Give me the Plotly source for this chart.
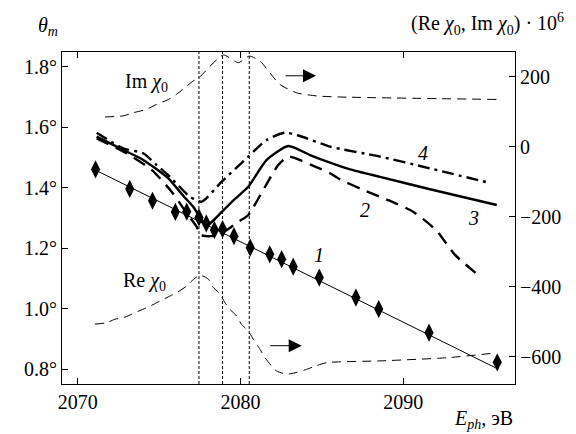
import plotly.graph_objects as go

# ---- data ----
e_pts = [2071.1, 2073.2, 2074.6, 2076.0, 2076.7, 2077.45, 2077.9, 2078.4, 2078.9, 2079.6,
         2080.6, 2081.8, 2082.53, 2083.24, 2084.84, 2087.09, 2088.49, 2091.58, 2095.77]
theta_pts = [1.461, 1.396, 1.357, 1.320, 1.321, 1.302, 1.282, 1.260, 1.263, 1.240,
             1.202, 1.180, 1.164, 1.139, 1.103, 1.037, 0.999, 0.921, 0.823]

fit_e = [2071.07, 2095.74]
fit_theta = [1.459, 0.803]

c2_e = [2071.17, 2073.01, 2074.55, 2075.77, 2076.70, 2077.31, 2077.51, 2078.31, 2079.15, 2079.77,
        2080.48, 2081.40, 2082.32, 2082.94, 2083.76, 2084.58, 2085.50, 2086.11, 2087.44, 2089.12,
        2090.60, 2092.01, 2093.18, 2094.72]
c2_theta = [1.563, 1.514, 1.459, 1.387, 1.316, 1.271, 1.244, 1.241, 1.260, 1.284,
            1.310, 1.393, 1.475, 1.503, 1.489, 1.470, 1.448, 1.428, 1.395, 1.358,
            1.321, 1.260, 1.178, 1.106]

c3_e = [2071.17, 2072.80, 2074.03, 2075.57, 2076.49, 2077.10, 2077.62, 2077.90, 2078.30, 2078.85,
        2079.60, 2080.48, 2081.61, 2082.94, 2084.27, 2085.50, 2086.73, 2088.57, 2091.64, 2095.74]
c3_theta = [1.569, 1.525, 1.492, 1.431, 1.373, 1.337, 1.293, 1.274, 1.290, 1.320,
            1.360, 1.403, 1.492, 1.538, 1.508, 1.483, 1.461, 1.436, 1.395, 1.343]

c4_e = [2071.17, 2072.80, 2074.03, 2074.85, 2075.67, 2076.90, 2077.62, 2078.85, 2080.48, 2081.61,
        2082.73, 2083.65, 2085.50, 2088.57, 2091.64, 2095.22]
c4_theta = [1.582, 1.530, 1.514, 1.475, 1.436, 1.370, 1.354, 1.420, 1.503, 1.558,
            1.582, 1.571, 1.536, 1.503, 1.464, 1.417]

im_e = [2071.68, 2072.78, 2073.42, 2074.24, 2074.85, 2075.57, 2076.08, 2076.59, 2077.10, 2077.45,
        2078.94, 2079.87, 2080.54, 2081.20, 2081.81, 2082.42, 2083.45, 2084.70, 2086.14, 2095.74]
im_val = [85, 88, 97, 107, 121, 135, 150, 169, 188, 197,
          262, 240, 259, 245, 211, 178, 154, 145, 142, 135]

re_e = [2071.06, 2071.78, 2072.29, 2072.91, 2073.52, 2074.24, 2074.85, 2075.57, 2076.08, 2076.70,
        2077.00, 2077.50, 2078.02, 2078.33, 2078.74, 2079.05, 2079.36, 2079.77, 2080.07, 2080.48,
        2080.79, 2081.20, 2081.51, 2081.92, 2082.22, 2082.84, 2083.35, 2084.07, 2084.58, 2085.30,
        2088.57, 2092.67, 2095.74]
re_val = [-507, -503, -493, -487, -474, -460, -446, -429, -417, -398,
          -384, -367, -378, -402, -421, -446, -465, -484, -508, -527,
          -550, -579, -603, -627, -641, -650, -646, -636, -627, -617,
          -612, -603, -589]

vlines_e = [2077.45, 2078.9, 2080.54]

x_ticks = [2070, 2080, 2090]
y1_ticks = [0.8, 1.0, 1.2, 1.4, 1.6, 1.8]
y1_labels = ["0.8°", "1.0°", "1.2°", "1.4°", "1.6°", "1.8°"]
y2_ticks = [-600, -400, -200, 0, 200]
y2_labels = ["−600", "−400", "−200", "0", "200"]

FONT = "Liberation Serif, 'Times New Roman', serif"
XR = [2069.04, 2096.86]
Y1R = [0.7514, 1.8486]
Y2R = [-678, 270.6]

fig = go.Figure()

for ve in vlines_e:
    fig.add_trace(go.Scatter(x=[ve, ve], y=Y1R, mode="lines",
                             line=dict(color="black", width=1, dash="3px,2px"),
                             showlegend=False, hoverinfo="skip"))

fig.add_trace(go.Scatter(x=im_e, y=im_val, yaxis="y2", mode="lines",
                         line=dict(color="black", width=1, dash="9px,6px", shape="spline", smoothing=0.6),
                         showlegend=False))
fig.add_trace(go.Scatter(x=re_e, y=re_val, yaxis="y2", mode="lines",
                         line=dict(color="black", width=1, dash="9px,6px", shape="spline", smoothing=0.6),
                         showlegend=False))

fig.add_trace(go.Scatter(x=c2_e, y=c2_theta, mode="lines",
                         line=dict(color="black", width=2.4, dash="13px,8px", shape="spline", smoothing=0.6),
                         showlegend=False))
fig.add_trace(go.Scatter(x=c3_e, y=c3_theta, mode="lines",
                         line=dict(color="black", width=2.4, shape="spline", smoothing=0.6),
                         showlegend=False))
fig.add_trace(go.Scatter(x=c4_e, y=c4_theta, mode="lines",
                         line=dict(color="black", width=2.4, dash="12px,5px,3px,5px", shape="spline", smoothing=0.6),
                         showlegend=False))

fig.add_trace(go.Scatter(x=fit_e, y=fit_theta, mode="lines",
                         line=dict(color="black", width=1), showlegend=False))
fig.add_trace(go.Scatter(x=e_pts, y=theta_pts, mode="markers",
                         marker=dict(symbol="diamond-tall", size=13, color="black"),
                         showlegend=False))

tf = dict(family=FONT, size=20, color="black")
for txt, xe, yt in [("1", 2084.84, 1.178), ("2", 2087.65, 1.326), ("3", 2094.3, 1.299), ("4", 2091.23, 1.514)]:
    fig.add_annotation(x=xe, y=yt, xref="x", yref="y", text="<i>" + txt + "</i>", showarrow=False, font=tf)
fig.add_annotation(x=2074.25, y=1.749, xref="x", yref="y", text="Im <i>χ</i><sub>0</sub>", showarrow=False, font=tf)
fig.add_annotation(x=2074.1, y=1.089, xref="x", yref="y", text="Re <i>χ</i><sub>0</sub>", showarrow=False, font=tf)
fig.add_annotation(x=2084.64, y=1.770, xref="x", yref="y", ax=-32, ay=0, text="", showarrow=True,
                   arrowhead=2, arrowsize=2.6, arrowwidth=1, arrowcolor="black")
fig.add_annotation(x=2083.76, y=0.878, xref="x", yref="y", ax=-33, ay=0, text="", showarrow=True,
                   arrowhead=2, arrowsize=2.6, arrowwidth=1, arrowcolor="black")

fig.add_annotation(x=0.0, y=1.0, xref="paper", yref="paper", xshift=-26, yshift=11,
                   xanchor="left", yanchor="bottom",
                   text="<i>θ</i><sub><i>m</i></sub>", showarrow=False, font=tf)
fig.add_annotation(x=1.0, y=1.0, xref="paper", yref="paper", xshift=51, yshift=12,
                   xanchor="right", yanchor="bottom",
                   text="(Re <i>χ</i><sub>0</sub>, Im <i>χ</i><sub>0</sub>) · 10<sup>6</sup>",
                   showarrow=False, font=tf)
fig.add_annotation(x=1.0, y=0.0, xref="paper", yref="paper", xshift=0, yshift=-50,
                   xanchor="right", yanchor="bottom",
                   text="<i>E</i><sub><i>ph</i></sub>, эВ", showarrow=False, font=tf)

axis_common = dict(ticks="inside", ticklen=6, tickwidth=1, tickcolor="black",
                   showline=True, linecolor="black", linewidth=1.2, showgrid=False,
                   zeroline=False, automargin=False,
                   tickfont=dict(family=FONT, size=20, color="black"))

fig.update_layout(
    width=576, height=434,
    margin=dict(l=62, r=61, t=52, b=50, autoexpand=False),
    plot_bgcolor="white", paper_bgcolor="white",
    xaxis=dict(range=XR, tickvals=x_ticks, ticktext=[str(v) for v in x_ticks],
               mirror="ticks", **axis_common),
    yaxis=dict(range=Y1R, tickvals=y1_ticks, ticktext=y1_labels, **axis_common),
    yaxis2=dict(range=Y2R, tickvals=y2_ticks, ticktext=y2_labels, overlaying="y",
                side="right", **axis_common),
)

fig.write_html("out.html", config={"displayModeBar": False},
               post_script="document.body.style.margin='0';document.body.style.overflow='hidden';")
